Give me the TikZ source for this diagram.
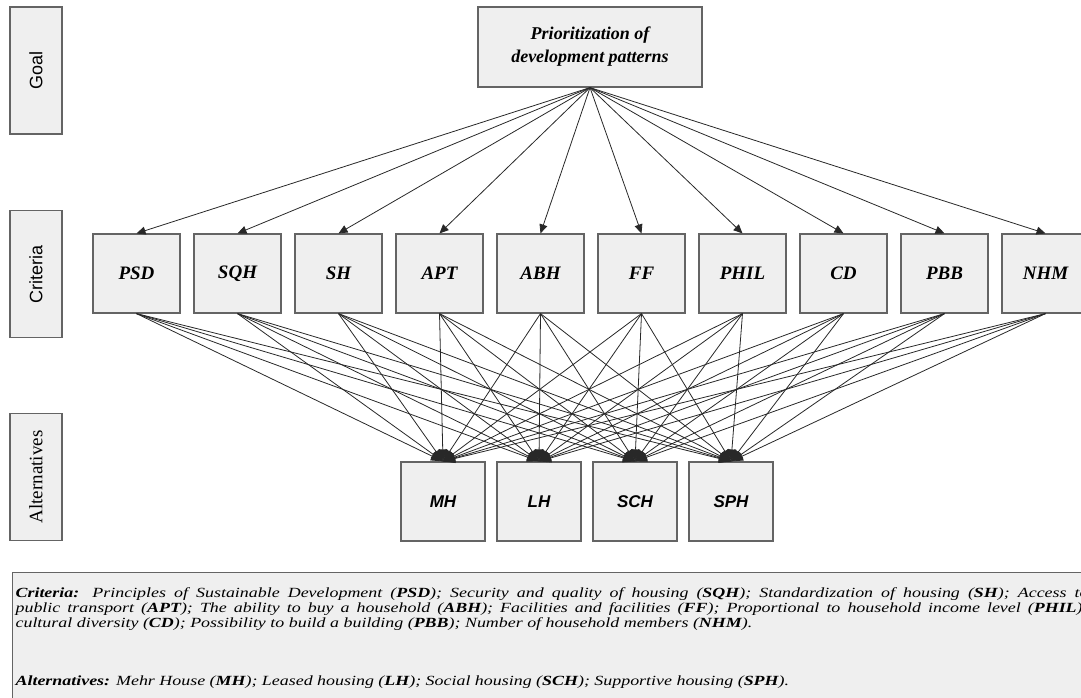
\documentclass[tikz,border=0pt]{standalone}
\usepackage{fontspec}
\setmainfont{Liberation Serif}
\setsansfont{Liberation Sans}
\newfontfamily\keyfont[FakeStretch=1.28]{Liberation Serif}
\usetikzlibrary{positioning,arrows.meta}
\definecolor{boxfill}{RGB}{239,239,239}
\definecolor{boxframe}{RGB}{100,100,100}
\definecolor{linkgray}{RGB}{40,40,40}

\begin{document}
\begin{tikzpicture}[
  x=1pt, y=-1pt,
  level/.style={rectangle, draw=boxframe, fill=boxfill, line width=1.2pt, rotate=90,
                minimum width=127pt, minimum height=52pt, inner sep=0pt},
  goalbox/.style={rectangle, draw=boxframe, fill=boxfill, line width=1.2pt,
                  minimum width=224pt, minimum height=80pt, align=center,
                  font=\fontsize{18}{23}\selectfont\bfseries\itshape},
  crit/.style={rectangle, draw=boxframe, fill=boxfill, line width=1.2pt,
               minimum width=87pt, minimum height=79pt, inner sep=0pt,
               font=\fontsize{19}{22}\selectfont\bfseries\itshape},
  alt/.style={rectangle, draw=boxframe, fill=boxfill, line width=1.2pt,
              minimum width=84pt, minimum height=79pt, inner sep=0pt,
              font=\fontsize{17}{20}\selectfont\sffamily\bfseries\itshape},
  legend/.style={rectangle, draw=boxframe, fill=boxfill, line width=1.2pt, anchor=north west,
                 text width=1073pt, inner xsep=3pt, inner ysep=15pt, align=justify,
                 text depth=125pt, font=\fontsize{14}{14.8}\selectfont\keyfont\itshape},
  ar/.style={-{Triangle[length=9pt,width=8pt]}, draw=linkgray, line width=0.8pt},
  link/.style={-{Triangle[length=12pt,width=9pt]}, draw=linkgray, line width=0.8pt},
  node distance=12.8pt
]
\useasboundingbox (0,0) rectangle (1081,697);
\clip (0,0) rectangle (1081,697);

% Level labels on the left
\node[level, font=\fontsize{18}{20}\selectfont\sffamily] (lgoal) at (36,70.5) {Goal};
\node[level, font=\fontsize{18}{20}\selectfont\sffamily] (lcrit) at (36,274) {Criteria};
\node[level, font=\fontsize{19}{20}\selectfont]          (lalt)  at (36,477) {Alternatives};

% Goal
\node[goalbox] (goal) at (590,47) {Prioritization of\\development patterns};

% Criteria row
\node[crit]                 (psd)  at (136.5,273.5) {PSD};
\node[crit, right=of psd]   (sqh)  {SQH};
\node[crit, right=of sqh]   (sh)   {SH};
\node[crit, right=of sh]    (apt)  {APT};
\node[crit, right=of apt]   (abh)  {ABH};
\node[crit, right=of abh]   (ff)   {FF};
\node[crit, right=of ff]    (phil) {PHIL};
\node[crit, right=of phil]  (cd)   {CD};
\node[crit, right=of cd]    (pbb)  {PBB};
\node[crit, right=of pbb]   (nhm)  {NHM};

% Alternatives row
\node[alt]                       (mh)  at (443,501.5) {MH};
\node[alt, right=10.8pt of mh]   (lh)  {LH};
\node[alt, right=10.8pt of lh]   (sch) {SCH};
\node[alt, right=10.8pt of sch]  (sph) {SPH};

% Goal -> criteria
\foreach \c in {psd,sqh,sh,apt,abh,ff,phil,cd,pbb,nhm}
  \draw[ar] (goal.south) -- (\c.north);

% Criteria -> alternatives
\foreach \c in {psd,sqh,sh,apt,abh,ff,phil,cd,pbb,nhm}
  \foreach \a in {mh,lh,sch,sph}
    \draw[link] (\c.south) -- (\a.north);

% Key to abbreviations
\node[legend] (key) at (12,572) {\textbf{Criteria:} Principles of Sustainable Development (\textbf{PSD}); Security and quality of housing (\textbf{SQH}); Standardization of housing (\textbf{SH}); Access to\linebreak
public transport (\textbf{APT}); The ability to buy a household (\textbf{ABH}); Facilities and facilities (\textbf{FF}); Proportional to household income level (\textbf{PHIL});\linebreak
cultural diversity (\textbf{CD}); Possibility to build a building (\textbf{PBB}); Number of household members (\textbf{NHM}).\par\vspace{44pt}
\textbf{Alternatives:} Mehr House (\textbf{MH}); Leased housing (\textbf{LH}); Social housing (\textbf{SCH}); Supportive housing (\textbf{SPH}).};
\end{tikzpicture}
\end{document}
